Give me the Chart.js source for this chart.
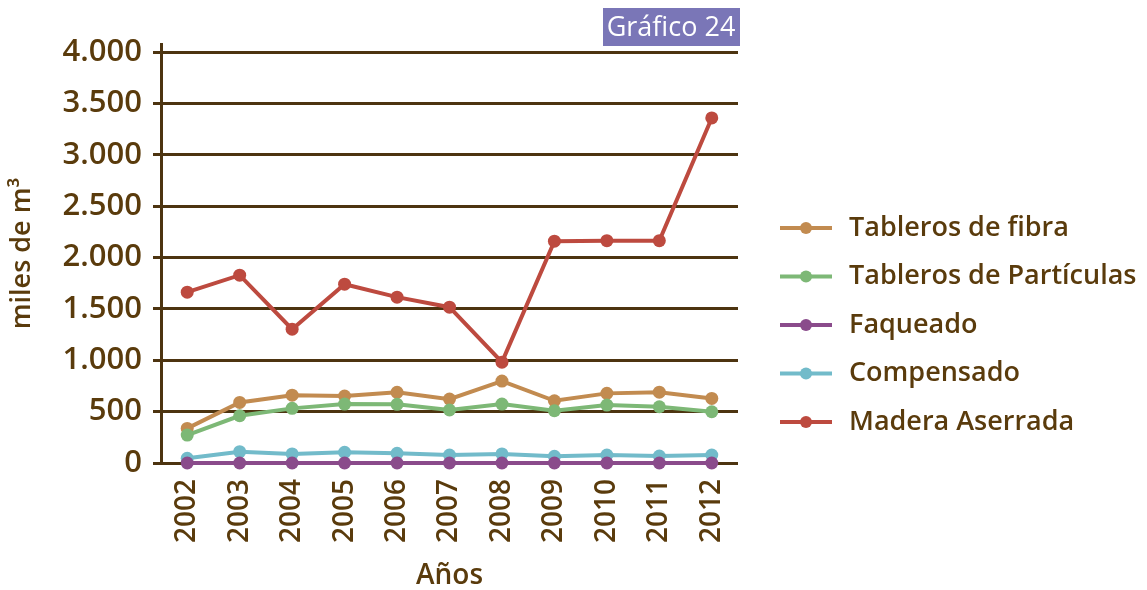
<!DOCTYPE html>
<html>
<head>
<meta charset="utf-8">
<script src="https://cdn.jsdelivr.net/npm/chart.js@4"></script>
<style>
  html, body { margin: 0; padding: 0; background: #fff; }
  #wrap { width: 1147px; height: 590px; }
</style>
</head>
<body>
<div id="wrap"><canvas id="myChart"></canvas></div>
<script>
// Years on the x axis
var years = ['2002', '2003', '2004', '2005', '2006', '2007', '2008', '2009', '2010', '2011', '2012'];

// Y axis tick values
var yTicks = [0, 500, 1000, 1500, 2000, 2500, 3000, 3500, 4000];

// Series, thousands of m3
var tablerosFibra      = [337, 590, 660, 652, 688, 622, 798, 606, 678, 690, 629];
var tablerosParticulas = [272, 460, 532, 574, 571, 516, 574, 509, 564, 548, 499];
var faqueado           = [0, 0, 0, 0, 0, 0, 0, 0, 0, 0, 0];
var compensado         = [46, 110, 88, 104, 94, 78, 88, 65, 78, 68, 78];
var maderaAserrada     = [1663, 1829, 1303, 1741, 1615, 1517, 982, 2160, 2165, 2165, 3360];

var seriesNames  = ['Tableros de fibra', 'Tableros de Partículas', 'Faqueado', 'Compensado', 'Madera Aserrada'];
var seriesColors = ['#c28b50', '#7db876', '#8a4b8b', '#72bbca', '#bd4a3f'];
var seriesData   = [tablerosFibra, tablerosParticulas, faqueado, compensado, maderaAserrada];
var drawOrder    = [5, 4, 2, 3, 1];   // lower number is painted on top

var brown = '#5a3b0c';
var gridBrown = '#4d3410';
var fontFamily = '"Open Sans", "Noto Sans", sans-serif';

var datasets = seriesData.map(function (values, i) {
    return {
        label: seriesNames[i],
        data: values,
        borderColor: seriesColors[i],
        backgroundColor: seriesColors[i],
        pointBackgroundColor: seriesColors[i],
        pointBorderWidth: 0,
        pointRadius: 6.5,
        borderWidth: 4,
        tension: 0,
        fill: false,
        clip: false,
        order: drawOrder[i]
    };
});

// Legend at the right and the "Gráfico 24" tag at the top
var decorations = {
    id: 'decorations',
    afterDraw: function (chart) {
        var c = chart.ctx;
        c.save();

        // tag box
        c.fillStyle = '#7a76b7';
        c.fillRect(603, 8, 137, 38);
        c.fillStyle = '#ffffff';
        c.font = '400 27px ' + fontFamily;
        c.textBaseline = 'middle';
        c.textAlign = 'center';
        c.fillText('Gráfico 24', 671, 28);

        // legend
        var y0 = 228, step = 48.5;
        c.textAlign = 'left';
        c.font = '600 27px ' + fontFamily;
        chart.data.datasets.forEach(function (ds, i) {
            var y = y0 + i * step;
            c.strokeStyle = ds.borderColor;
            c.lineWidth = 4;
            c.beginPath();
            c.moveTo(780, y);
            c.lineTo(832, y);
            c.stroke();
            c.fillStyle = ds.borderColor;
            c.beginPath();
            c.arc(806, y, 6, 0, Math.PI * 2);
            c.fill();
            c.fillStyle = brown;
            c.fillText(ds.label, 849, y);
        });
        c.restore();
    }
};

var ctx = document.getElementById('myChart').getContext('2d');
var myChart = new Chart(ctx, {
    type: 'line',
    data: {
        labels: years,
        datasets: datasets
    },
    plugins: [decorations],
    options: {
        responsive: true,
        maintainAspectRatio: false,
        animation: false,
        layout: {
            padding: { left: 0, top: 44, right: 409, bottom: 0 }
        },
        plugins: {
            legend: { display: false },
            title: { display: false },
            tooltip: { enabled: false }
        },
        scales: {
            x: {
                offset: true,
                grid: { display: false, drawTicks: false },
                border: { display: false },
                ticks: {
                    color: brown,
                    font: { family: fontFamily, size: 28, weight: '600' },
                    minRotation: 90,
                    maxRotation: 90,
                    padding: 16
                },
                title: {
                    display: true,
                    text: 'Años',
                    color: brown,
                    font: { family: fontFamily, size: 28, weight: '600', lineHeight: 1 },
                    padding: { top: 0, bottom: 0 }
                },
                afterFit: function (scale) { scale.height = 127; }
            },
            y: {
                min: 0,
                max: 4080,   // axis line runs a little above the top gridline
                afterBuildTicks: function (scale) {
                    scale.ticks = yTicks.map(function (v) { return { value: v }; });
                },
                grid: {
                    color: gridBrown,
                    lineWidth: 3,
                    tickLength: 8,
                    drawTicks: true
                },
                border: { display: true, color: gridBrown, width: 3 },
                ticks: {
                    color: brown,
                    padding: 11,
                    font: { family: fontFamily, size: 31, weight: '600' },
                    callback: function (v) {
                        return v >= 1000 ? Math.floor(v / 1000) + '.' + String(v % 1000).padStart(3, '0') : String(v);
                    }
                },
                title: {
                    display: true,
                    text: 'miles de m³',
                    color: brown,
                    font: { family: fontFamily, size: 27, weight: '600', lineHeight: 1 },
                    padding: { top: 9, bottom: 0 }
                },
                afterFit: function (scale) { scale.width = 161; }
            }
        }
    }
});
</script>
</body>
</html>
